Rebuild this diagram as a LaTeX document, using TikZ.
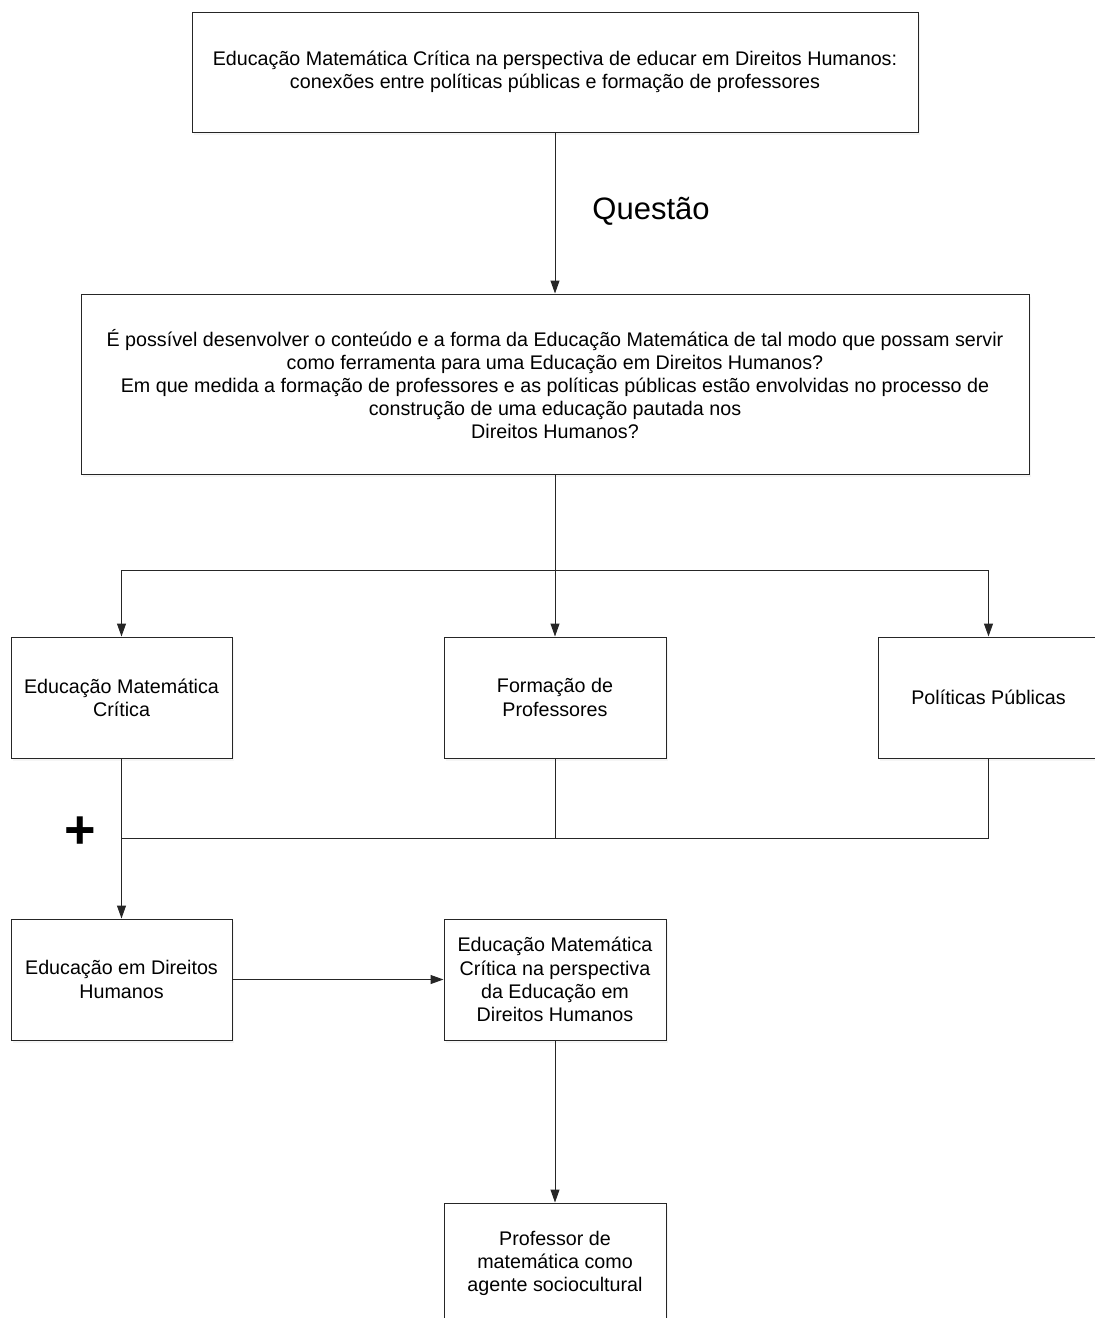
\documentclass[tikz,border=0pt]{standalone}
\usepackage{fontspec}
\setmainfont{Liberation Sans}
\usetikzlibrary{arrows.meta}
\usetikzlibrary{shadows}
\tikzset{
    tnode/.style = {align=center, inner sep=0pt, text centered, font=\fontsize{19.7}{23.2}\selectfont},
    flow_box/.style = {tnode, rectangle, draw=black!85, fill=white, line width=1pt,
        drop shadow={opacity=0.08, shadow xshift=2pt, shadow yshift=-3pt}},
    big_label/.style = {tnode, font=\fontsize{31}{33}\selectfont},
    plus_label/.style = {tnode, font=\fontsize{54}{54}\selectfont\bfseries}
}

\begin{document}
\begin{tikzpicture}
            [x=1pt, y=-1pt, line width=1pt, draw=black!85,
            arr/.style={-{Triangle[length=13pt, width=9pt]}}]

            \useasboundingbox (0,0) rectangle (1095,1318);

            % titulo e questao
            \node [flow_box, minimum width=726pt, minimum height=120pt] (title) at (555,72)
                {Educação Matemática Crítica na perspectiva de educar em Direitos Humanos:\\
                 conexões entre políticas públicas e formação de professores};
            \node [flow_box, minimum width=948pt, minimum height=180pt] (quest) at (555,384)
                {É possível desenvolver o conteúdo e a forma da Educação Matemática de tal modo que possam servir\\
                 como ferramenta para uma Educação em Direitos Humanos?\\
                 Em que medida a formação de professores e as políticas públicas estão envolvidas no processo de\\
                 construção de uma educação pautada nos\\
                 Direitos Humanos?};
            \node [big_label] (questao) at (651,211) {Questão};

            % tres eixos
            \node [flow_box, minimum width=221pt, minimum height=121pt] (emc) at (121.5,697.5)
                {Educação Matemática\\ Crítica};
            \node [flow_box, minimum width=222pt, minimum height=121pt] (fp) at (555,697.5)
                {Formação de\\ Professores};
            \node [flow_box, minimum width=221pt, minimum height=121pt] (pp) at (988.5,697.5)
                {Políticas Públicas};

            % resultado
            \node [flow_box, minimum width=221pt, minimum height=121pt] (edh) at (121.5,979.5)
                {Educação em Direitos\\ Humanos};
            \node [flow_box, minimum width=222pt, minimum height=121pt] (emcdh) at (555,979.5)
                {Educação Matemática\\ Crítica na perspectiva\\ da Educação em\\ Direitos Humanos};
            \node [flow_box, minimum width=222pt, minimum height=121pt] (prof) at (555,1263.5)
                {Professor de\\ matemática como\\ agente sociocultural};
            \node [plus_label] (plus) at (80.5,832.5) {+};

            \coordinate (split) at (555,570);
            \coordinate (join) at (121.5,838);

            \draw [arr] (title) -- (quest);
            \draw (quest) -- (split);
            \draw [arr] (split) -| (emc.north);
            \draw [arr] (split) -- (fp);
            \draw [arr] (split) -| (pp.north);
            \draw [arr] (emc) -- (edh);
            \draw (fp.south) |- (join);
            \draw (pp.south) |- (join);
            \draw [arr] (edh) -- (emcdh);
            \draw [arr] (emcdh) -- (prof);
        \end{tikzpicture}
\end{document}
